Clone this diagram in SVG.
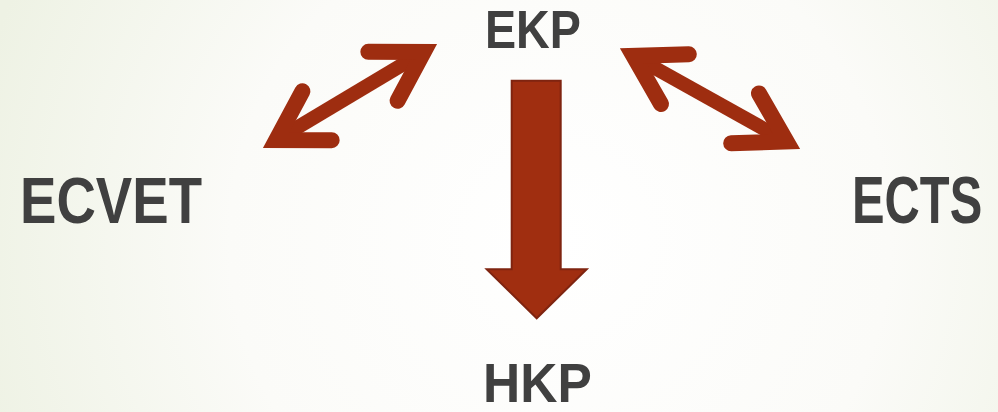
<svg xmlns="http://www.w3.org/2000/svg" width="998" height="412" viewBox="0 0 998 412">
<defs>
<radialGradient id="bg" cx="560" cy="240" r="600" gradientUnits="userSpaceOnUse">
<stop offset="0" stop-color="#ffffff"/>
<stop offset="0.55" stop-color="#fbfbf8"/>
<stop offset="1" stop-color="#eef2e4"/>
</radialGradient>
<style>
.lbl{font-family:"Liberation Sans",Arial,sans-serif;font-weight:bold;fill:#404040}
.shaft{stroke:#9e2d10;stroke-width:14;fill:none}
.head{stroke:#9e2d10;stroke-width:16;fill:none;stroke-linecap:round;stroke-linejoin:miter;stroke-miterlimit:6}
</style>
</defs>
<rect width="998" height="412" fill="url(#bg)"/>
<g id="connectors">
<g id="arrow-ecvet-ekp" transform="translate(350,96) rotate(-30.87)">
<line class="shaft" x1="-86" y1="0" x2="86" y2="0"/>
<path class="head" d="M38.4,-28.5 L85.9,0 L38.4,28.5"/>
<path class="head" d="M-38.4,-28.5 L-85.9,0 L-38.4,28.5"/>
</g>
<g id="arrow-ekp-ects" transform="translate(710,98.7) rotate(29.2)">
<line class="shaft" x1="-88" y1="0" x2="88" y2="0"/>
<path class="head" d="M40.2,-28.5 L87.7,0 L40.2,28.5"/>
<path class="head" d="M-40.2,-28.5 L-87.7,0 L-40.2,28.5"/>
</g>
<g id="arrow-ekp-hkp">
<path d="M511.7,80.7 H560.7 V269.3 H586.7 L536.7,318.3 L486.7,269.3 H511.7 Z" fill="#a02e10" stroke="#7f2410" stroke-width="2"/>
</g>
</g>
<g id="node-ekp"><text class="lbl" transform="translate(485,47.5) scale(0.88,1)" font-size="53">EKP</text></g>
<g id="node-ecvet"><text class="lbl" transform="translate(20,223) scale(0.84,1)" font-size="65">ECVET</text></g>
<g id="node-ects"><text class="lbl" transform="translate(852,223) scale(0.74,1)" font-size="66">ECTS</text></g>
<g id="node-hkp"><text class="lbl" transform="translate(483,401.5) scale(0.92,1)" font-size="56">HKP</text></g>
</svg>
